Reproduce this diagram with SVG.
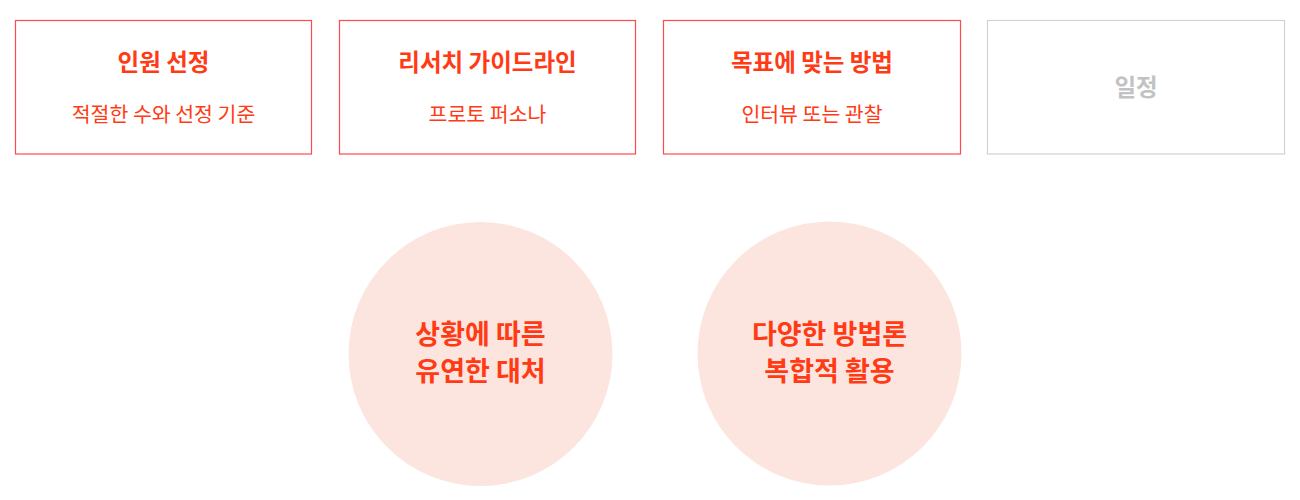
<svg xmlns="http://www.w3.org/2000/svg" width="1300" height="500" viewBox="0 0 1300 500">
<style>
.box{fill:#fff;stroke:#ff4b4b;stroke-width:1.2}
.box.off{stroke:#d2d2d2}
.t{font-family:"Noto Sans CJK KR","Noto Sans",sans-serif;text-anchor:middle;fill:#ff3a14}
.h{font-size:23.5px;font-weight:700}
.s{font-size:20.5px;font-weight:400}
.g{fill:#c2c2c2}
.c{fill:#fce5df}
.ct{font-size:27px;font-weight:700}
</style>
<rect width="1300" height="500" fill="#fff"/>
<g id="node1">
<rect class="box" x="15.5" y="20.5" width="296" height="133.5"/>
<text class="t h" x="163.5" y="71">인원 선정</text>
<text class="t s" x="163.5" y="122">적절한 수와 선정 기준</text>
</g>
<g id="node2">
<rect class="box" x="339.5" y="20.5" width="296" height="133.5"/>
<text class="t h" x="487.5" y="71">리서치 가이드라인</text>
<text class="t s" x="487.5" y="122">프로토 퍼소나</text>
</g>
<g id="node3">
<rect class="box" x="663.5" y="20.5" width="297" height="133.5"/>
<text class="t h" x="812" y="71">목표에 맞는 방법</text>
<text class="t s" x="812" y="122">인터뷰 또는 관찰</text>
</g>
<g id="node4">
<rect class="box off" x="987.5" y="20.5" width="297" height="133.5"/>
<text class="t h g" x="1136" y="96">일정</text>
</g>
<g id="circle1">
<circle class="c" cx="480.5" cy="354" r="132"/>
<text class="t ct" x="480.5" y="344">상황에 따른</text>
<text class="t ct" x="480.5" y="381">유연한 대처</text>
</g>
<g id="circle2">
<circle class="c" cx="829.5" cy="353.5" r="132"/>
<text class="t ct" x="829.5" y="344">다양한 방법론</text>
<text class="t ct" x="829.5" y="381">복합적 활용</text>
</g>
<g id="connectors"></g>
</svg>
